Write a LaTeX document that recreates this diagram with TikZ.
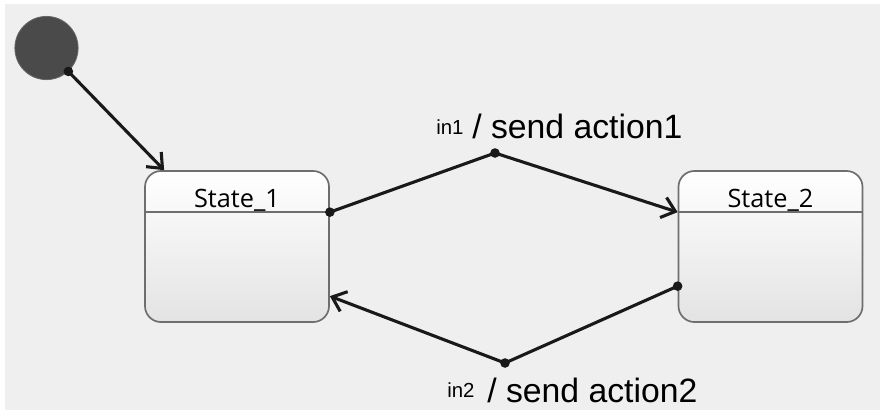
\documentclass[tikz,border=0pt]{standalone}
\usepackage{fontspec}
\usepackage{tikz}
\usetikzlibrary{calc,arrows.meta}
\newfontfamily\statefont{Open Sans}
\newfontfamily\labelfont{Liberation Sans}
\definecolor{bggrey}{HTML}{EFEFEF}
\definecolor{boxline}{HTML}{6E6E6E}
\definecolor{boxlow}{HTML}{E3E3E3}
\definecolor{initfill}{HTML}{4A4A4A}
\tikzset{
	statebox/.style={draw=boxline, line width=1.2pt, rounded corners=0.4cm, top color=white, bottom color=boxlow, minimum width=4.6cm, minimum height=3.775cm, inner sep=0pt},
	trans/.style={line width=2.2pt, color=black!90},
	transarrow/.style={trans, -{Straight Barb[length=9pt,width=15pt]}},
	pin/.style={fill=black!90, draw=none},
	bigtext/.style={font=\labelfont\fontsize{24}{28}\selectfont, inner sep=0pt, anchor=base west},
	smalltext/.style={font=\labelfont\fontsize{14.5}{17}\selectfont, inner sep=0pt, anchor=base west},
	statetext/.style={font=\statefont\fontsize{18}{22}\selectfont, inner sep=0pt, anchor=base}
}

\begin{document}
\begin{tikzpicture}[x=0.025cm, y=-0.025cm]
			%%%%% START %%%%%
			
			\useasboundingbox[fill=white] (0, 0) rectangle (880, 410);
			\fill[bggrey] (5, 4) rectangle (880, 410);
			
			% initial state
			\node[circle, fill=initfill, draw=black!60, line width=0.6pt, minimum size=1.58cm, inner sep=0pt] (init) at (46.5, 48) {};
			
			% states
			\node[statebox] (s1) at (237, 246.5) {};
			\node[statebox] (s2) at (770.5, 246.5) {};
			\draw[boxline, line width=1.1pt] ($(s1.north west)+(0, 42)$) -- ($(s1.north east)+(0, 42)$);
			\draw[boxline, line width=1.1pt] ($(s2.north west)+(0, 42)$) -- ($(s2.north east)+(0, 42)$);
			\node[statetext] (s1name) at (237, 207) {State\_1};
			\node[statetext] (s2name) at (770.5, 207) {State\_2};
			
			% points on the borders and junctions
			\coordinate (initout) at (init.-47);
			\coordinate (s1in) at ($(s1.north west)+(20, 0)$);
			\coordinate (s1out) at ($(s1.north east)+(0, 42)$);
			\coordinate (s1back) at ($(s1.north east)+(0, 126)$);
			\coordinate (s2in) at ($(s2.north west)+(0, 42)$);
			\coordinate (s2out) at ($(s2.north west)+(0, 116)$);
			\coordinate (j1) at (495, 153);
			\coordinate (j2) at (505, 363);
			
			% transitions
			\draw[transarrow] (initout) -- (s1in);
			\draw[trans] (s1out) -- (j1);
			\draw[transarrow] (j1) -- (s2in);
			\draw[trans] (s2out) -- (j2);
			\draw[transarrow] (j2) -- (s1back);
			
			\foreach \p in {initout, s1out, j1, s2out, j2}
				\fill[pin] (\p) circle (0.12cm);
			
			% labels
			\node[smalltext] (in1) at (436, 134) {in1};
			\node[bigtext] (act1) at (472, 138) {/ send action1};
			\node[smalltext] (in2) at (447, 397) {in2};
			\node[bigtext] (act2) at (487, 402) {/ send action2};
			
			%%%%% END %%%%%
		\end{tikzpicture}
\end{document}
